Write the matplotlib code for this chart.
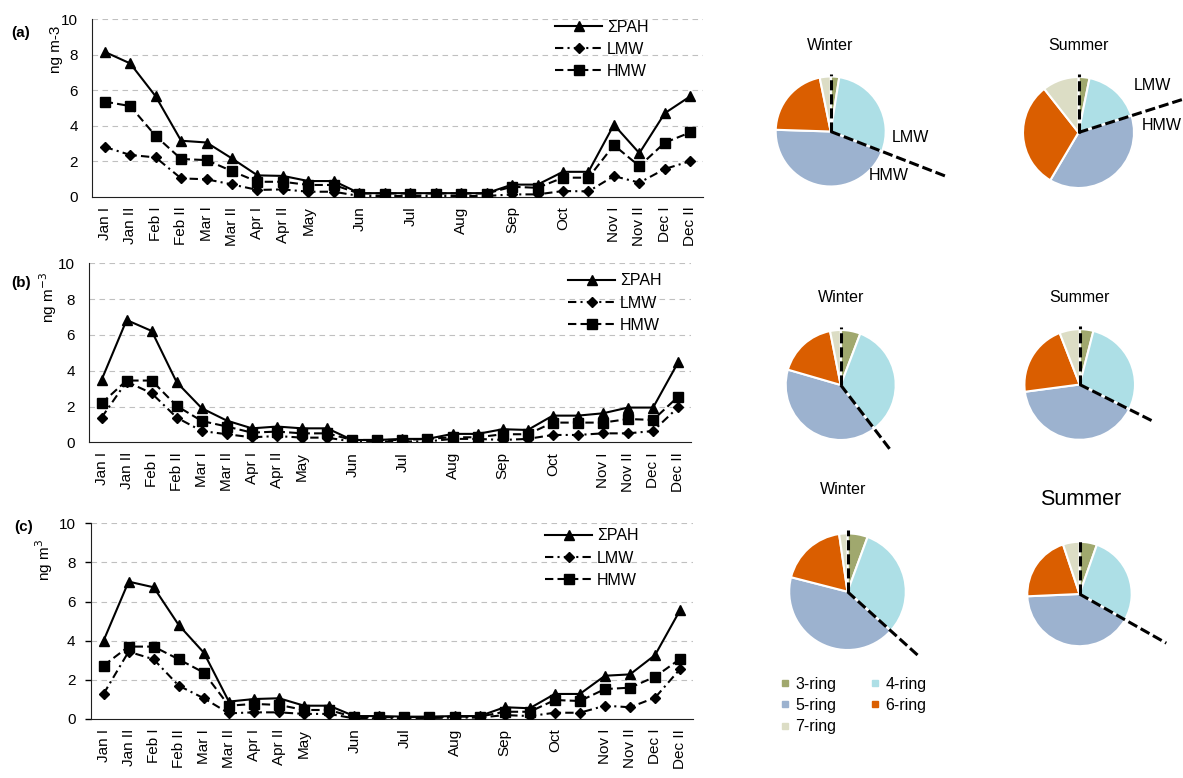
import numpy as np
import matplotlib
matplotlib.use('Agg')
import matplotlib.pyplot as plt
from matplotlib.lines import Line2D

plt.rcParams['font.family'] = ['Liberation Sans', 'DejaVu Sans']

W, H = 1183, 778

months = ['Jan I', 'Jan II', 'Feb I', 'Feb II', 'Mar I', 'Mar II', 'Apr I', 'Apr II',
          'May', '', 'Jun', '', 'Jul', '', 'Aug', '', 'Sep', '', 'Oct', '',
          'Nov I', 'Nov II', 'Dec I', 'Dec II']

# concentrations, ng m-3
pah_a = [8.15, 7.5, 5.65, 3.15, 3.05, 2.15, 1.2, 1.17, 0.88, 0.88, 0.2, 0.2,
         0.2, 0.2, 0.2, 0.2, 0.68, 0.68, 1.4, 1.4, 4.05, 2.45, 4.7, 5.65]
lmw_a = [2.8, 2.35, 2.21, 1.03, 0.98, 0.69, 0.38, 0.41, 0.28, 0.28, 0.04, 0.04,
         0.04, 0.04, 0.04, 0.04, 0.13, 0.13, 0.32, 0.3, 1.16, 0.79, 1.56, 2.0]
hmw_a = [5.35, 5.1, 3.42, 2.12, 2.06, 1.44, 0.84, 0.84, 0.66, 0.66, 0.18, 0.18,
         0.18, 0.18, 0.18, 0.18, 0.56, 0.5, 1.07, 1.07, 2.9, 1.72, 3.04, 3.62]

pah_b = [3.48, 6.83, 6.22, 3.35, 1.9, 1.21, 0.78, 0.88, 0.78, 0.78, 0.13, 0.13,
         0.19, 0.19, 0.47, 0.47, 0.73, 0.69, 1.49, 1.49, 1.62, 1.94, 1.94, 4.47]
lmw_b = [1.38, 3.39, 2.74, 1.38, 0.63, 0.45, 0.28, 0.35, 0.26, 0.26, 0.04, 0.04,
         0.05, 0.05, 0.19, 0.19, 0.13, 0.19, 0.41, 0.41, 0.5, 0.5, 0.63, 1.96]
hmw_b = [2.18, 3.45, 3.45, 2.03, 1.19, 0.88, 0.54, 0.6, 0.5, 0.5, 0.13, 0.13,
         0.13, 0.19, 0.28, 0.28, 0.45, 0.45, 1.1, 1.1, 1.1, 1.3, 1.25, 2.55]

pah_c = [4.0, 7.02, 6.73, 4.8, 3.39, 0.89, 1.02, 1.06, 0.68, 0.68, 0.15, 0.15,
         0.12, 0.12, 0.15, 0.15, 0.6, 0.55, 1.28, 1.28, 2.21, 2.28, 3.27, 5.57]
lmw_c = [1.28, 3.44, 3.05, 1.7, 1.06, 0.29, 0.34, 0.34, 0.26, 0.26, 0.03, 0.03,
         0.05, 0.05, 0.07, 0.07, 0.2, 0.15, 0.32, 0.32, 0.68, 0.6, 1.09, 2.56]
hmw_c = [2.73, 3.7, 3.7, 3.05, 2.37, 0.68, 0.77, 0.72, 0.46, 0.46, 0.09, 0.09,
         0.1, 0.1, 0.12, 0.12, 0.37, 0.37, 0.97, 0.92, 1.53, 1.6, 2.16, 3.07]

# ring-number composition, %
rings = ['3-ring', '4-ring', '5-ring', '6-ring', '7-ring']
ring_colors = ['#A0A86E', '#ADDFE6', '#9CB2CF', '#DA5E00', '#DCDDC5']
winter_a = [2.5, 28.4, 44.6, 21.3, 3.2]
summer_a = [3.2, 16.9, 38.4, 30.9, 10.6]
winter_b = [5.8, 33.8, 39.9, 17.4, 3.1]
summer_b = [4.0, 28.4, 40.5, 21.2, 5.9]
winter_c = [5.6, 31.1, 42.3, 18.7, 2.3]
summer_c = [5.4, 27.8, 41.1, 20.6, 5.1]

fig = plt.figure(figsize=(W / 100, H / 100), dpi=100)


def px_rect(x0, x1, ytop, ybot):
    return [x0 / W, 1 - ybot / H, (x1 - x0) / W, (ybot - ytop) / H]


def line_panel(rect, pah, lmw, hmw, ylab, lab_xy, tag, tag_xy, leg_xy, yticklen):
    ax = fig.add_axes(rect)
    x = np.arange(len(months))
    ax.plot(x, pah, color='k', lw=1.5, marker='^', ms=7.5, label='ΣPAH', zorder=3)
    ax.plot(x, lmw, color='k', lw=1.5, dashes=(4, 2, 1, 2), marker='D', ms=5,
            label='LMW', zorder=3)
    ax.plot(x, hmw, color='k', lw=1.5, dashes=(4, 2), marker='s', ms=7,
            label='HMW', zorder=3)
    for y in range(2, 11, 2):
        ax.axhline(y, color='#C0C0C0', lw=0.8, dashes=(5, 4), zorder=0)
    ax.set_xlim(-0.5, len(months) - 0.5)
    ax.set_ylim(0, 10)
    ax.set_yticks(range(0, 11, 2))
    ax.set_xticks(x)
    ax.set_xticklabels(months, rotation=90)
    ax.tick_params(axis='x', length=0, pad=7, labelsize=11)
    ax.tick_params(axis='y', length=yticklen, width=1, pad=10 - yticklen * 0.7,
                   labelsize=11)
    for s in ['top', 'right']:
        ax.spines[s].set_visible(False)
    ax.spines['left'].set_color('#202020')
    ax.spines['bottom'].set_color('#202020')
    ax.set_ylabel(ylab, fontsize=11)
    ax.yaxis.set_label_coords(*lab_xy)
    fig.text(tag_xy[0] / W, 1 - tag_xy[1] / H, tag, fontsize=11, fontweight='bold',
             ha='center', va='center')
    ax.legend(loc='upper left', bbox_to_anchor=(leg_xy[0] / W, 1 - leg_xy[1] / H),
              bbox_transform=fig.transFigure, frameon=False, fontsize=11.5,
              handlelength=2.95, handletextpad=0.3, labelspacing=0.45,
              borderpad=0, borderaxespad=0)
    return ax


line_panel(px_rect(92, 703, 19, 196.7), pah_a, lmw_a, hmw_a, 'ng m-3',
           (-0.047, 0.83), '(a)', (21, 33), (555, 19.5), 0)
line_panel(px_rect(89, 690.7, 263.3, 442.3), pah_b, lmw_b, hmw_b, 'ng m$^{-3}$',
           (-0.05, 0.81), '(b)', (21, 283), (568, 273.5), 0)
line_panel(px_rect(91, 692.7, 523.3, 719), pah_c, lmw_c, hmw_c, 'ng m$^{3}$',
           (-0.06, 0.81), '(c)', (24, 527), (545, 528.5), 4)


def pie_panel(cx, cy, r, fracs, title, title_xy, title_size, dash_len, labels=None):
    ax = fig.add_axes([(cx - r) / W, 1 - (cy + r) / H, 2 * r / W, 2 * r / H])
    ax.pie(fracs, colors=ring_colors, startangle=90, counterclock=False, radius=1,
           wedgeprops=dict(edgecolor='white', linewidth=1.5))
    ax.set_xlim(-1, 1)
    ax.set_ylim(-1, 1)
    ax.axis('off')
    # LMW (3+4 ring) / HMW (5-7 ring) split
    share = (fracs[0] + fracs[1]) / sum(fracs)
    th = np.deg2rad(90 - 360 * share)
    ax.plot([0, dash_len * np.cos(th)], [0, dash_len * np.sin(th)], color='k',
            lw=2.2, dashes=(3.3, 1.3), clip_on=False, solid_capstyle='butt')
    ax.plot([0, 0], [0, 1.05], color='k', lw=2.2, dashes=(3.3, 1.3), clip_on=False)
    fig.text(title_xy[0] / W, 1 - title_xy[1] / H, title, fontsize=title_size,
             ha='center', va='center')
    if labels:
        for txt, (lx, ly) in labels:
            fig.text(lx / W, 1 - ly / H, txt, fontsize=11.5, ha='center', va='center')


pie_panel(830.7, 131.5, 55, winter_a, 'Winter', (830, 45), 11.5, 2.26,
          [('LMW', (910.5, 137)), ('HMW', (888.5, 175))])
pie_panel(1078.5, 132.5, 55.5, summer_a, 'Summer', (1078, 45), 11.5, 2.4,
          [('LMW', (1152, 85)), ('HMW', (1161.7, 125))])
pie_panel(840.7, 385, 55, winter_b, 'Winter', (841, 297.7), 11.5, 1.53)
pie_panel(1079.7, 384.5, 55.3, summer_b, 'Summer', (1079.3, 297.7), 11.5, 1.48)
pie_panel(847.5, 591.7, 58.3, winter_c, 'Winter', (843.3, 490), 11.5, 1.66)
pie_panel(1079.5, 594, 52.2, summer_c, 'Summer', (1080.7, 499.3), 15.5, 1.91)

# legend fills column by column, so order entries to read row by row
order = [0, 2, 4, 1, 3]
handles = [Line2D([], [], ls='', marker='s', ms=5, color=ring_colors[i]) for i in order]
fig.legend(handles, [rings[i] for i in order], loc='upper left',
           bbox_to_anchor=(779.4 / W, 1 - 676.5 / H),
           ncol=2, frameon=False, fontsize=11.5, handlelength=0.7,
           handletextpad=0.28, columnspacing=2.1, labelspacing=0.4,
           borderpad=0, borderaxespad=0)

fig.savefig('out.png', dpi=100)
